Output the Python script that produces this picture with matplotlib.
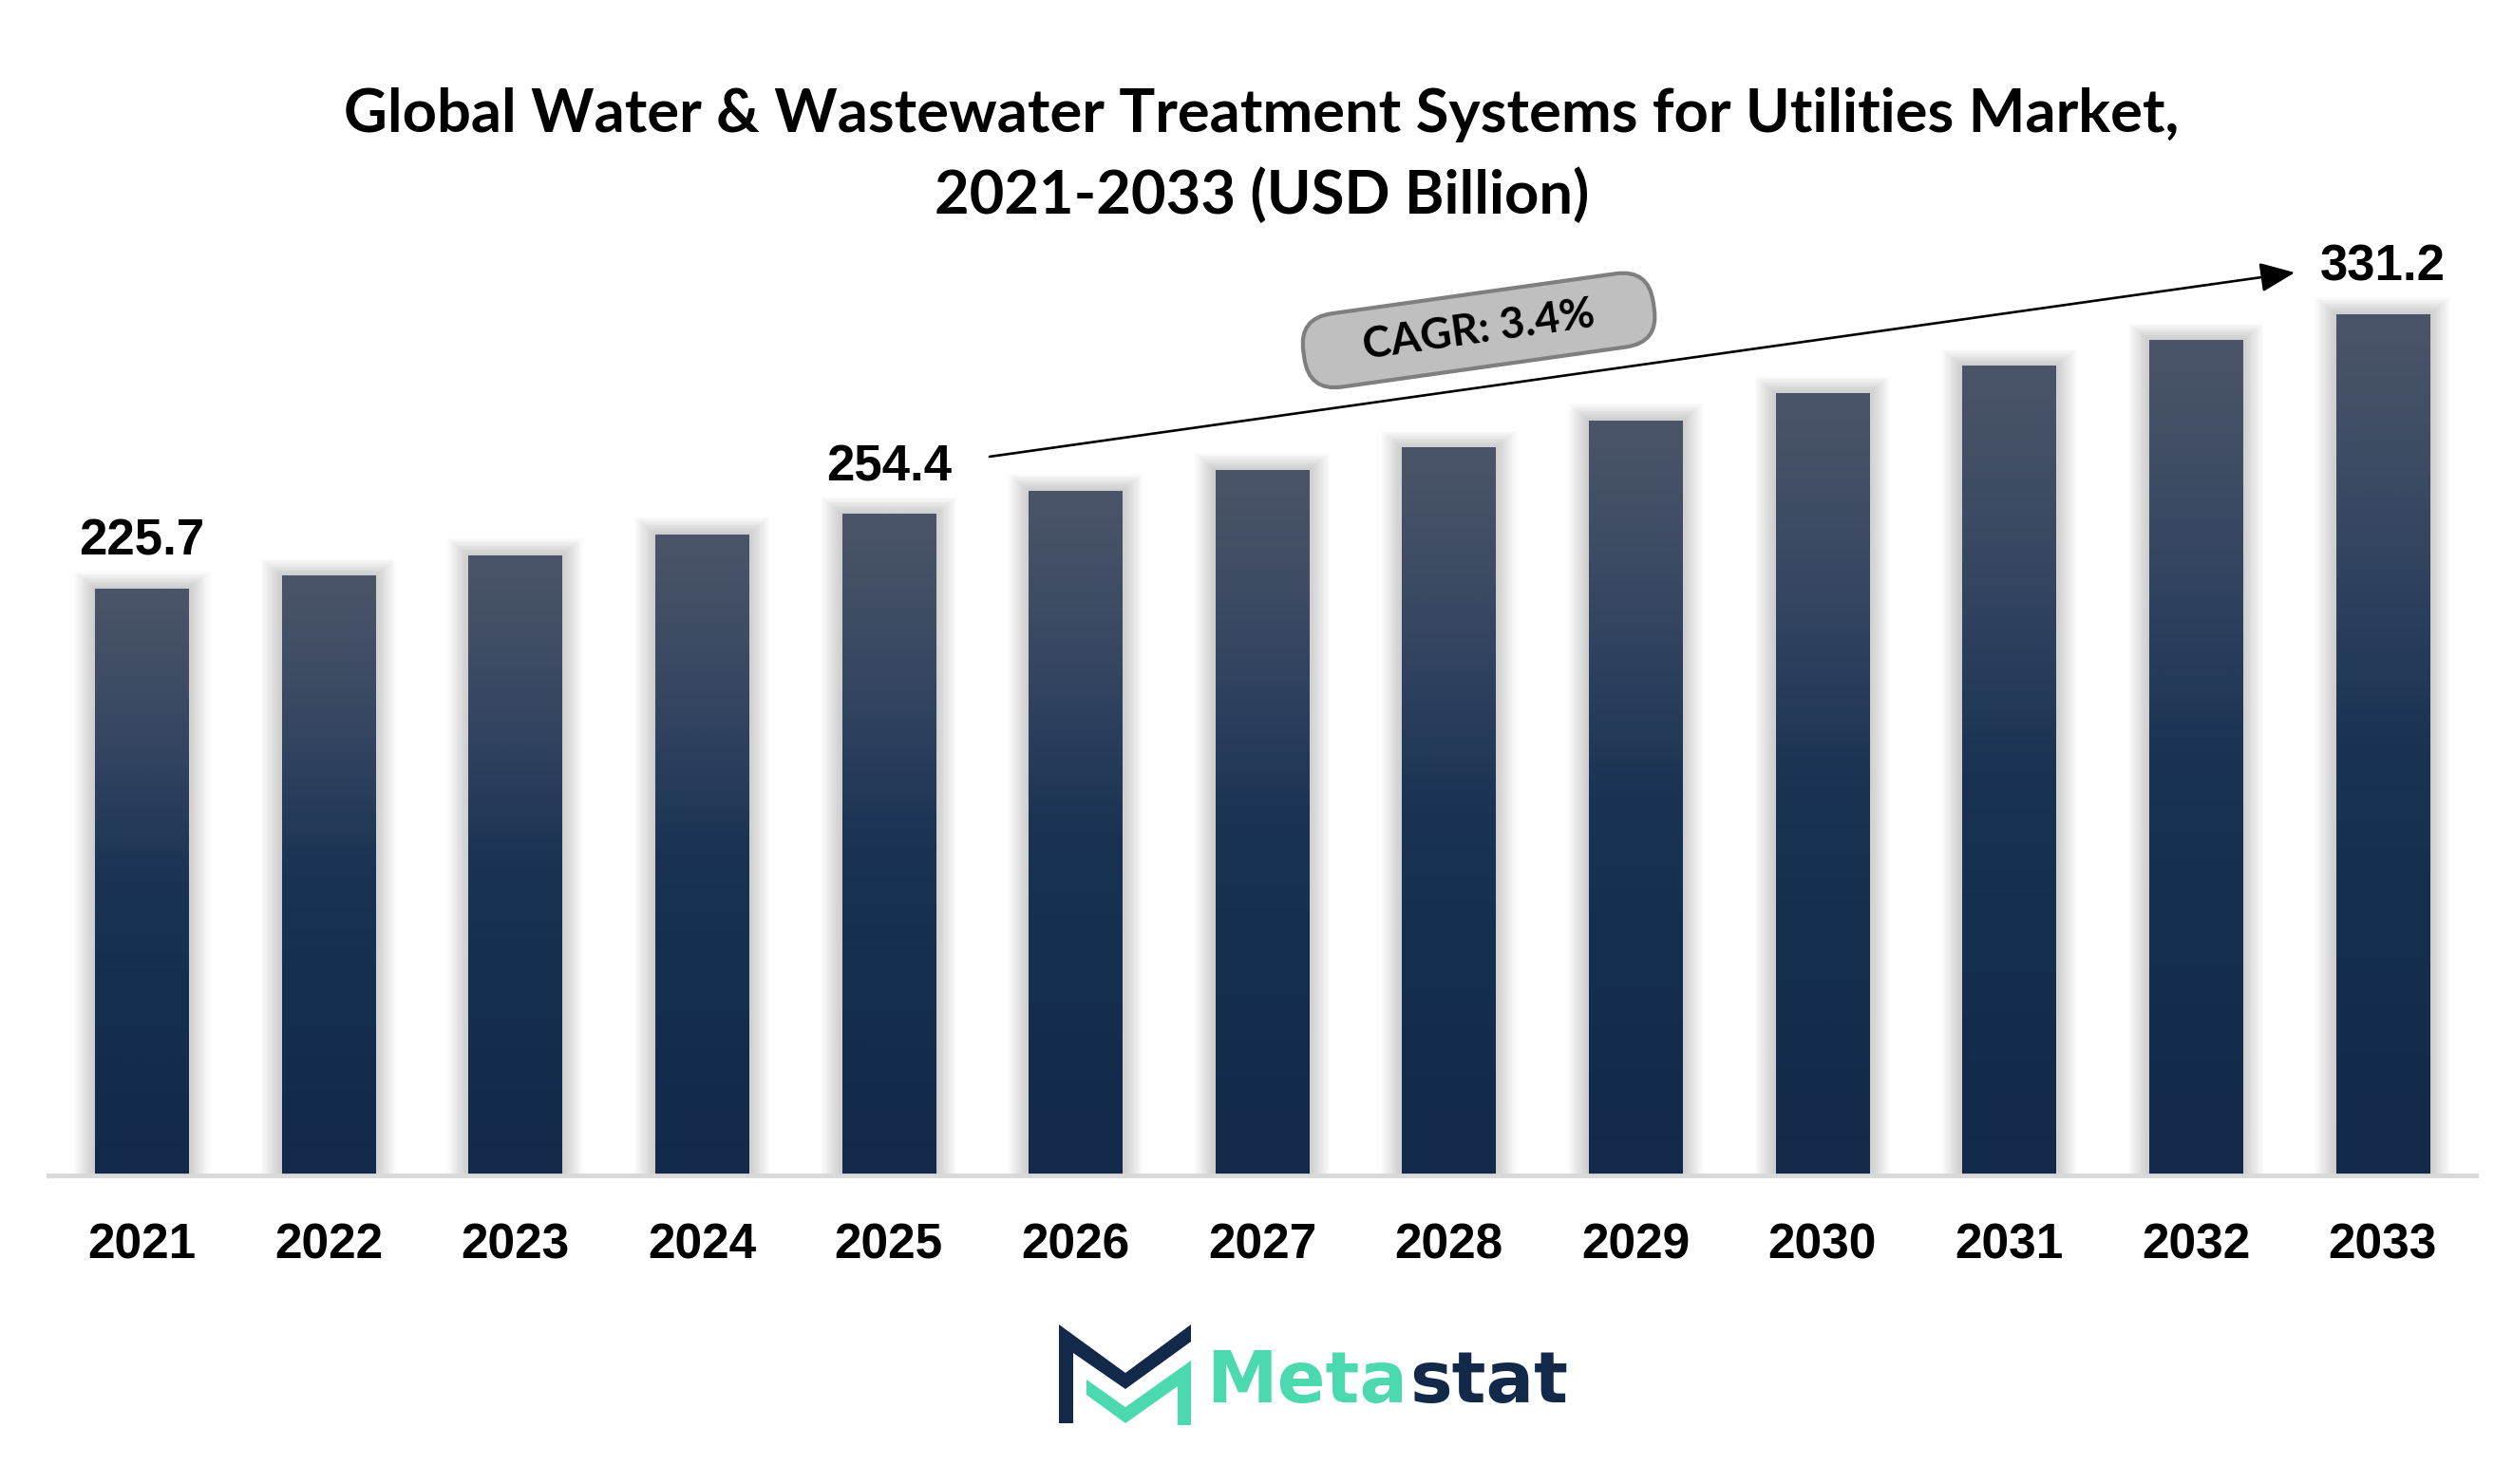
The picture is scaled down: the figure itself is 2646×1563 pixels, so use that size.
import matplotlib
matplotlib.use("Agg")
import matplotlib.pyplot as plt
import numpy as np
from matplotlib.patches import Rectangle, FancyBboxPatch, Polygon
from matplotlib.colors import LinearSegmentedColormap
from matplotlib.transforms import Affine2D

# ---------------- data ----------------
years = ["2021", "2022", "2023", "2024", "2025", "2026", "2027",
         "2028", "2029", "2030", "2031", "2032", "2033"]
values = [225.7, 230.6, 238.6, 246.6, 254.4, 263.3, 271.3,
          279.9, 290.4, 300.9, 311.3, 321.2, 331.2]
labeled_years = ["2021", "2025", "2033"]
title_lines = ["Global Water & Wastewater Treatment Systems for Utilities Market,",
               "2021-2033 (USD Billion)"]
cagr_text = "CAGR: 3.4%"
brand_parts = ["Meta", "stat"]

# ---------------- styling ----------------
W, H, DPI = 2646, 1563, 100
NAVY = "#13294a"
TOP = "#4b5569"
TEAL = "#4cd9b0"
TITLE_FONT = "Lato"
NUM_FONT = "Liberation Sans"


def fx(px):
    return px / W


def fy(py):
    return 1 - py / H


fig = plt.figure(figsize=(W / DPI, H / DPI), dpi=DPI)
fig.patch.set_facecolor("white")

ax_left, ax_right = 51 / W, 2607 / W
ax_bottom, ax_top = fy(1238), fy(252)
ax = fig.add_axes([ax_left, ax_bottom, ax_right - ax_left, ax_top - ax_bottom])
ax.set_facecolor("white")

x = np.arange(len(years))
bar_w = 0.5
ax.set_xlim(-0.5, len(years) - 0.5)
ax.set_ylim(0, 360)

bars = ax.bar(x, values, width=bar_w, color=NAVY, zorder=3)

# pixel -> data scaling for shadows
px_per_x = (ax_right - ax_left) * W / len(years)
px_per_y = (ax_top - ax_bottom) * H / 360.0

# soft shadow around bars
for b in bars:
    x0, w, h = b.get_x(), b.get_width(), b.get_height()
    for k in range(1, 14):
        d = k * 1.7
        dx, dy = d / px_per_x, d / px_per_y
        ax.add_patch(Rectangle((x0 - dx, 0), w + 2 * dx, h + dy * 0.8,
                               facecolor="#404040", edgecolor="none",
                               alpha=0.02, zorder=2))

# gradient fill
cmap = LinearSegmentedColormap.from_list(
    "barg", [(0.0, "#13294a"), (0.35, "#15304f"), (0.5, "#1a3352"),
             (0.65, "#2a3f5d"), (0.8, "#3b4a63"), (1.0, TOP)])
grad = np.linspace(0, 1, 512).reshape(-1, 1)
for b in bars:
    x0, w, h = b.get_x(), b.get_width(), b.get_height()
    im = ax.imshow(grad, extent=[x0, x0 + w, 0, h], origin="lower",
                   cmap=cmap, aspect="auto", zorder=3.1, interpolation="bilinear")
    im.set_clip_path(b)

ax.set_xlim(-0.5, len(years) - 0.5)
ax.set_ylim(0, 360)

for s in ["top", "right", "left"]:
    ax.spines[s].set_visible(False)
ax.spines["bottom"].set_color("#d9d9d9")
ax.spines["bottom"].set_linewidth(3.5)
ax.spines["bottom"].set_zorder(4)
ax.set_yticks([])
ax.set_xticks(x)
ax.set_xticklabels(years, fontsize=37, fontweight="bold", family=NUM_FONT, color="black")
ax.tick_params(axis="x", length=0, pad=36)

# value labels
for yr in labeled_years:
    i = years.index(yr)
    ax.annotate(f"{values[i]:.1f}", (x[i], values[i]), xytext=(0, 35),
                textcoords="offset pixels", ha="center", va="baseline",
                fontsize=38, fontweight="bold", family=NUM_FONT, color="black",
                zorder=6)

# CAGR arrow
i0, i1 = years.index("2025"), years.index("2033")
ax.annotate("", xy=(x[i1] - 0.47, values[i1] + 16), xytext=(x[i0] + 0.54, values[i0] + 22),
            arrowprops=dict(arrowstyle="-|>,head_length=0.75,head_width=0.32",
                            lw=1.9, color="black", mutation_scale=30,
                            shrinkA=0, shrinkB=0), zorder=6)

# CAGR box
fig.canvas.draw()
cx_d, cy_d = 7.16, 325
cx, cy = ax.transData.transform((cx_d, cy_d))
bw, bh = 372, 78
box = FancyBboxPatch((-bw / 2, -bh / 2), bw, bh,
                     boxstyle=f"round,pad=0,rounding_size={bh*0.45}",
                     facecolor="#bfbfbf", edgecolor="#7f7f7f", linewidth=3,
                     transform=Affine2D().rotate_deg(8.0).translate(cx, cy),
                     zorder=7)
fig.add_artist(box)
fig.text(cx / W, cy / H, cagr_text, rotation=8.0, rotation_mode="anchor",
         ha="center", va="center", fontsize=32.5, fontweight="bold",
         family=TITLE_FONT, color="black", zorder=8)

# title
t1 = fig.text(0.502, fy(121), title_lines[0], ha="center", va="center",
              fontsize=44, fontweight="bold", family=TITLE_FONT, color="black")
fig.canvas.draw()
wt = t1.get_window_extent().width
fs = 44 * 1932 / wt
t1.set_fontsize(fs)
fig.text(0.502, fy(206), title_lines[1], ha="center", va="center",
         fontsize=fs, fontweight="bold", family=TITLE_FONT, color="black")

# logo icon
navy_pts = [(1115, 1395), (1185, 1446), (1254, 1395), (1254, 1413),
            (1185, 1463), (1130, 1425), (1130, 1499), (1115, 1499)]
teal_pts = [(1144, 1453), (1185, 1482), (1254, 1433), (1254, 1501),
            (1240, 1501), (1240, 1460), (1185, 1499), (1144, 1469)]
fig.add_artist(Polygon([(fx(a), fy(b)) for a, b in navy_pts], closed=True,
                       facecolor=NAVY, edgecolor="none", transform=fig.transFigure))
fig.add_artist(Polygon([(fx(a), fy(b)) for a, b in teal_pts], closed=True,
                       facecolor=TEAL, edgecolor="none", transform=fig.transFigure))

tm = fig.text(fx(1270), fy(1477), brand_parts[0], ha="left", va="baseline",
              fontsize=54, fontweight="bold", family="DejaVu Sans", color=TEAL)
fig.canvas.draw()
bb = tm.get_window_extent()
fig.text((bb.x1 + 2) / W, fy(1477), brand_parts[1], ha="left", va="baseline",
         fontsize=54, fontweight="bold", family="DejaVu Sans", color=NAVY)

fig.savefig("out.png", dpi=DPI, facecolor="white")
